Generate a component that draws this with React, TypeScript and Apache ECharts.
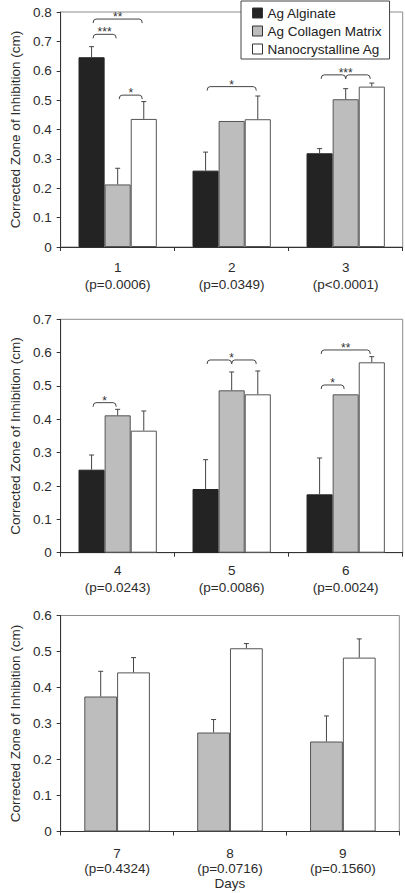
import React, { useEffect, useRef } from 'react';
import * as echarts from 'echarts';

// ---------- data ----------
const seriesNames = ['Ag Alginate', 'Ag Collagen Matrix', 'Nanocrystalline Ag'];

const days1 = ['1', '2', '3'];
const pValues1 = ['(p=0.0006)', '(p=0.0349)', '(p<0.0001)'];
const alginate1 = [0.646, 0.26, 0.319];
const alginateErr1 = [0.036, 0.063, 0.016];
const collagen1 = [0.213, 0.429, 0.503];
const collagenErr1 = [0.055, 0, 0.036];
const nano1 = [0.436, 0.435, 0.546];
const nanoErr1 = [0.059, 0.079, 0.012];

const days2 = ['4', '5', '6'];
const pValues2 = ['(p=0.0243)', '(p=0.0086)', '(p=0.0024)'];
const alginate2 = [0.249, 0.191, 0.175];
const alginateErr2 = [0.044, 0.088, 0.109];
const collagen2 = [0.412, 0.487, 0.475];
const collagenErr2 = [0.018, 0.055, 0];
const nano2 = [0.366, 0.475, 0.571];
const nanoErr2 = [0.059, 0.07, 0.017];

const days3 = ['7', '8', '9'];
const pValues3 = ['(p=0.4324)', '(p=0.0716)', '(p=0.1560)'];
const collagen3 = [0.375, 0.275, 0.25];
const collagenErr3 = [0.07, 0.036, 0.071];
const nano3 = [0.442, 0.509, 0.483];
const nanoErr3 = [0.041, 0.013, 0.052];

// significance brackets: [category, fromBar, toBar, midBar(-1 none), level, label]
const brackets1: [number, number, number, number, number, string][] = [
  [0, 0, 2, -1, 0.776, '**'],
  [0, 0, 1, -1, 0.724, '***'],
  [0, 1, 2, -1, 0.517, '*'],
  [1, 0, 2, -1, 0.546, '*'],
  [2, 0, 2, 1, 0.586, '***'],
];
const brackets2: [number, number, number, number, number, string][] = [
  [0, 0, 1, -1, 0.45, '*'],
  [1, 0, 2, 1, 0.578, '*'],
  [2, 0, 1, -1, 0.503, '*'],
  [2, 0, 2, -1, 0.608, '**'],
];

const yMax = [0.8, 0.7, 0.6];
const yTitle = 'Corrected Zone of Inhibition (cm)';
const xTitle = 'Days';

// ---------- styles ----------
const FONT = '"Liberation Sans", Arial, Helvetica, sans-serif';
const TEXT = '#2b2b2b';
const AXIS = '#333';
const colors = ['#232323', '#bdbdbd', '#ffffff'];
const borders = ['#222', '#555', '#555'];

const W3 = 26.1; // bar width panels 1,2
const W2 = 32.8; // bar width panel 3

export default function App() {
  const ref = useRef<HTMLDivElement>(null);
  useEffect(() => {
    document.body.style.margin = '0';
    if (!ref.current) return;
    const chart = echarts.init(ref.current, null, { renderer: 'svg' });

    const grids = [
      { left: 54.5, right: 2.3, top: 12, height: 235 },
      { left: 54.5, right: 2.3, top: 319.3, height: 233.4 },
      { left: 55, right: 5.7, top: 615.5, height: 216 },
    ];

    const cats = [
      days1.map((d, i) => d + '\n' + pValues1[i]),
      days2.map((d, i) => d + '\n' + pValues2[i]),
      days3.map((d, i) => d + '\n' + pValues3[i]),
    ];
    const labelMargins = [12, 9, 14];
    const labelLH = [17, 17, 15];

    const xAxes = cats.map((c, i) => ({
      type: 'category',
      gridIndex: i,
      data: c,
      axisLine: { lineStyle: { color: AXIS, width: 1 } },
      axisTick: { show: true, length: 4, lineStyle: { color: AXIS } },
      axisLabel: {
        fontSize: 13.5,
        fontFamily: FONT,
        color: TEXT,
        lineHeight: labelLH[i],
        margin: labelMargins[i],
      },
      name: i === 2 ? xTitle : '',
      nameLocation: 'middle',
      nameGap: 44,
      nameTextStyle: { fontSize: 13.5, fontFamily: FONT, color: TEXT },
    }));

    const yAxes = yMax.map((m, i) => ({
      type: 'value',
      gridIndex: i,
      min: 0,
      max: m,
      interval: 0.1,
      splitLine: { show: false },
      axisLine: { show: true, lineStyle: { color: AXIS, width: 1 } },
      axisTick: { show: true, length: 4, lineStyle: { color: AXIS } },
      axisLabel: {
        fontSize: 13.5,
        fontFamily: FONT,
        color: TEXT,
        margin: 9,
        formatter: (v: number) => String(Math.round(v * 10) / 10),
      },
      name: yTitle,
      nameLocation: 'middle',
      nameGap: 36,
      nameTextStyle: { fontSize: 13.5, fontFamily: FONT, color: TEXT },
    }));

    const barSeries = (name: string, data: number[], idx: number, panel: number, bw: number) => ({
      type: 'bar',
      name,
      xAxisIndex: panel,
      yAxisIndex: panel,
      data,
      barWidth: bw,
      barGap: '0%',
      itemStyle: { color: colors[idx], borderColor: borders[idx], borderWidth: 1 },
      z: 2,
    });

    const errorSeries = (panel: number, vals: number[][], errs: number[][], bw: number) => {
      const n = vals.length;
      const items: { c: number; s: number; v: number; e: number }[] = [];
      vals.forEach((arr, s) => arr.forEach((v, c) => items.push({ c, s, v, e: errs[s][c] })));
      return {
        type: 'custom',
        xAxisIndex: panel,
        yAxisIndex: panel,
        z: 5,
        silent: true,
        data: items.map((it) => [it.c, it.v + it.e]),
        renderItem: (params: any, api: any) => {
          const it = items[params.dataIndex];
          if (!it.e) return null;
          const p0 = api.coord([it.c, it.v]);
          const p1 = api.coord([it.c, it.v + it.e]);
          const x = p0[0] + (it.s - (n - 1) / 2) * bw;
          return {
            type: 'group',
            children: [
              { type: 'line', shape: { x1: x, y1: p0[1], x2: x, y2: p1[1] }, style: { stroke: '#444', lineWidth: 1 } },
              { type: 'line', shape: { x1: x - 2.5, y1: p1[1], x2: x + 2.5, y2: p1[1] }, style: { stroke: '#444', lineWidth: 1 } },
            ],
          };
        },
      };
    };

    const bracketSeries = (panel: number, list: [number, number, number, number, number, string][], n: number, bw: number) => ({
      type: 'custom',
      xAxisIndex: panel,
      yAxisIndex: panel,
      z: 6,
      silent: true,
      data: list.map((b) => [b[0], b[4]]),
      renderItem: (params: any, api: any) => {
        const b = list[params.dataIndex];
        const c = api.coord([b[0], b[4]]);
        const off = (i: number) => (i - (n - 1) / 2) * bw;
        const x1 = c[0] + off(b[1]) + 1.5;
        const x2 = c[0] + off(b[2]) - 1.5;
        const y = c[1];
        const r = 3;
        const h = 4;
        let d = `M${x1} ${y + h} Q${x1} ${y} ${x1 + r} ${y}`;
        if (b[3] >= 0) {
          const xm = c[0] + off(b[3]);
          d += ` L${xm - r} ${y} Q${xm} ${y} ${xm} ${y + h} Q${xm} ${y} ${xm + r} ${y}`;
        }
        d += ` L${x2 - r} ${y} Q${x2} ${y} ${x2} ${y + h}`;
        return {
          type: 'group',
          children: [
            { type: 'path', shape: { pathData: d }, style: { stroke: '#444', fill: 'none', lineWidth: 1 } },
            {
              type: 'text',
              style: {
                text: b[5],
                x: (x1 + x2) / 2,
                y: y - 2,
                align: 'center',
                verticalAlign: 'middle',
                fontSize: 12,
                fontFamily: FONT,
                fill: '#333',
              },
            },
          ],
        };
      },
    });

    const option: any = {
      animation: false,
      backgroundColor: '#fff',
      textStyle: { fontFamily: FONT },
      grid: grids.map((g) => ({ ...g, show: true, borderColor: '#8c8c8c', borderWidth: 1, backgroundColor: 'transparent' })),
      xAxis: xAxes,
      yAxis: yAxes,
      legend: {
        orient: 'vertical',
        left: 241,
        top: 1,
        padding: [4, 8, 2, 11],
        itemGap: 2,
        itemWidth: 10,
        itemHeight: 10,
        icon: 'rect',
        backgroundColor: '#fff',
        borderColor: '#444',
        borderWidth: 1,
        z: 10,
        textStyle: { fontSize: 13.5, fontFamily: FONT, color: '#222', lineHeight: 16 },
        data: seriesNames.map((nm, i) => ({
          name: nm,
          itemStyle: { color: colors[i], borderColor: '#333', borderWidth: 1 },
        })),
      },
      series: [
        barSeries(seriesNames[0], alginate1, 0, 0, W3),
        barSeries(seriesNames[1], collagen1, 1, 0, W3),
        barSeries(seriesNames[2], nano1, 2, 0, W3),
        barSeries(seriesNames[0], alginate2, 0, 1, W3),
        barSeries(seriesNames[1], collagen2, 1, 1, W3),
        barSeries(seriesNames[2], nano2, 2, 1, W3),
        barSeries(seriesNames[1], collagen3, 1, 2, W2),
        barSeries(seriesNames[2], nano3, 2, 2, W2),
        errorSeries(0, [alginate1, collagen1, nano1], [alginateErr1, collagenErr1, nanoErr1], W3),
        errorSeries(1, [alginate2, collagen2, nano2], [alginateErr2, collagenErr2, nanoErr2], W3),
        errorSeries(2, [collagen3, nano3], [collagenErr3, nanoErr3], W2),
        bracketSeries(0, brackets1, 3, W3),
        bracketSeries(1, brackets2, 3, W3),
      ],
    };
    chart.setOption(option);
    return () => chart.dispose();
  }, []);
  return <div ref={ref} style={{ width: 405, height: 893 }} />;
}
